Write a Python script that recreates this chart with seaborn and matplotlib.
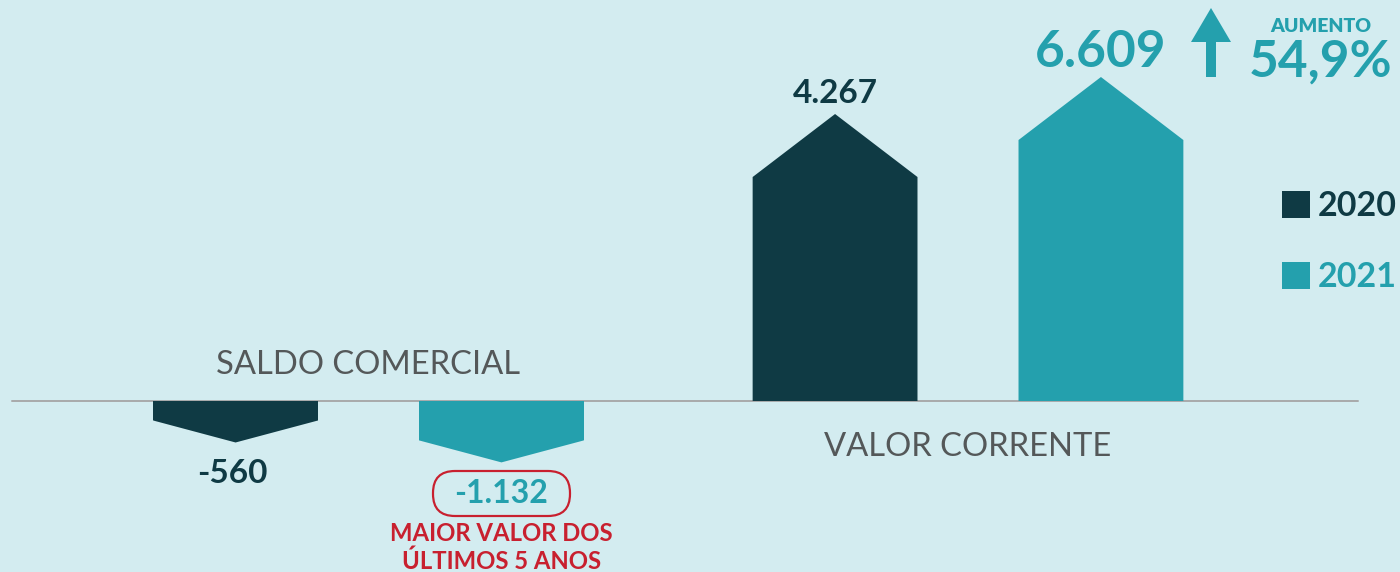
import numpy as np
import pandas as pd
import matplotlib
matplotlib.use("Agg")
import matplotlib.pyplot as plt
from matplotlib.patches import Polygon, FancyBboxPatch, FancyArrow
import seaborn as sns

# ---------------- data ----------------
grupos = ["SALDO COMERCIAL", "SALDO COMERCIAL", "VALOR CORRENTE", "VALOR CORRENTE"]
anos = ["2020", "2021", "2020", "2021"]
valores = [-560, -1132, 4267, 6609]
rotulos = ["-560", "-1.132", "4.267", "6.609"]
destaque_aumento = "54,9%"
nota_destaque = ["MAIOR VALOR DOS", "ÚLTIMOS 5 ANOS"]

df = pd.DataFrame({"grupo": grupos, "ano": anos, "valor": valores})

# ---------------- style ----------------
BG = "#d3ecf0"
DARK = "#0f3a44"
TEAL = "#24a0ad"
RED = "#c8202f"
GRAY_TXT = "#545859"
FONT = ["Lato", "DejaVu Sans"]

sns.set_theme(style="white")
plt.rcParams["font.family"] = FONT

W, H, DPI = 1400, 572, 100
PT = 72 / DPI  # points per pixel

# infographic (non-proportional) value scale, in pixels from the zero line
C_POS, P_POS, K_NEG = 12.074, 0.3494, 0.0348


def fwd(v):
    v = np.asarray(v, dtype=float)
    return np.where(v >= 0, C_POS * np.abs(v) ** P_POS, K_NEG * v)


def inv(y):
    y = np.asarray(y, dtype=float)
    return np.where(y >= 0, (np.abs(y) / C_POS) ** (1 / P_POS), y / K_NEG)


fig = plt.figure(figsize=(W / DPI, H / DPI), dpi=DPI)
fig.patch.set_facecolor(BG)
ax = fig.add_axes([0, 0, 1, 1])
ax.set_facecolor(BG)

sns.barplot(data=df, x="grupo", y="valor", hue="ano", palette=[DARK, TEAL],
            saturation=1, width=0.887, gap=0.38, ax=ax, legend=True, zorder=3,
            linewidth=0, edgecolor="none")
handles, labels = ax.get_legend_handles_labels()
if ax.get_legend() is not None:
    ax.get_legend().remove()

ax.set_yscale("function", functions=(fwd, inv))
zero_px = 401
ax.set_ylim(float(inv(-(H - zero_px))), float(inv(zero_px)))
ax.set_xlim(-0.6147, 1.7206)
ax.set_axis_off()

ax.axhline(0, xmin=12 / W, xmax=1358 / W, color="#a9abac", lw=2 * PT, zorder=1)

# arrow-shaped tips and value labels
bars = []
for cont in ax.containers:
    for rect in cont.patches:
        bars.append(rect)
bars.sort(key=lambda r: r.get_x())

label_colors = [DARK, TEAL, DARK, TEAL]
for i, rect in enumerate(bars):
    v = rect.get_height()
    x0, w = rect.get_x(), rect.get_width()
    tip = 63 if v > 0 else -22
    apex = float(inv(fwd(v) + tip))
    ax.add_patch(Polygon([(x0, 0), (x0, v), (x0 + w / 2, apex), (x0 + w, v), (x0 + w, 0)],
                         closed=True, facecolor=rect.get_facecolor(),
                         edgecolor="none", lw=0, zorder=3))
    xc = x0 + w / 2
    if v > 0:
        size = 24 if i == 2 else 37
        off = 11 if i == 2 else 10
        ax.annotate(rotulos[i], (xc, apex), xytext=(0, off * PT),
                    textcoords="offset points", ha="center", va="baseline",
                    fontsize=size, fontweight="bold", color=label_colors[i])
    else:
        ax.annotate(rotulos[i], (xc, apex), xytext=(-3 * PT if i == 0 else 0, -41 * PT),
                    textcoords="offset points", ha="center", va="baseline",
                    fontsize=24 if i == 0 else 23, fontweight="bold",
                    color=label_colors[i])
    if i == 1:
        for k, line in enumerate(nota_destaque):
            ax.annotate(line, (xc, apex), xytext=(0, -(79 + 28 * k) * PT),
                        textcoords="offset points", ha="center", va="baseline",
                        fontsize=17.2, fontweight="bold", color=RED)

# pill around -1.132
fig.patches.append(FancyBboxPatch((4.33, (H - 516) / DPI), 1.37, 0.45,
                                  boxstyle="round,pad=0,rounding_size=0.22",
                                  transform=fig.dpi_scale_trans,
                                  facecolor="none", edgecolor=RED, lw=2.2 * PT))

# category labels
ax.annotate("SALDO COMERCIAL", (0, 0), xytext=(0, 27 * PT), textcoords="offset points",
            ha="center", va="baseline", fontsize=23.6, color=GRAY_TXT)
ax.annotate("VALOR CORRENTE", (1, 0), xytext=(0, -55 * PT), textcoords="offset points",
            ha="center", va="baseline", fontsize=23.6, color=GRAY_TXT)

# growth annotation
fig.patches.append(FancyArrow(12.11, (H - 77) / DPI, 0, 0.69, width=0.10,
                              head_width=0.40, head_length=0.34,
                              length_includes_head=True,
                              transform=fig.dpi_scale_trans,
                              facecolor=TEAL, edgecolor="none"))
fig.text(1321 / W, 1 - 32 / H, "AUMENTO", ha="center", va="baseline",
         fontsize=14, fontweight="heavy", color=TEAL)
fig.text(1321 / W, 1 - 77 / H, destaque_aumento, ha="center", va="baseline",
         fontsize=37, fontweight="bold", color=TEAL)

# legend
leg = ax.legend(handles, labels, loc="upper left",
                bbox_to_anchor=(1282 / W, 1 - 190 / H), frameon=False,
                prop={"family": FONT, "weight": "bold", "size": 24.5},
                handlelength=0.83, handleheight=0.83, handletextpad=0.22,
                labelspacing=1.15, borderpad=0, borderaxespad=0)
for t, c in zip(leg.get_texts(), [DARK, TEAL]):
    t.set_color(c)

fig.savefig("out.png", dpi=DPI, facecolor=BG)
